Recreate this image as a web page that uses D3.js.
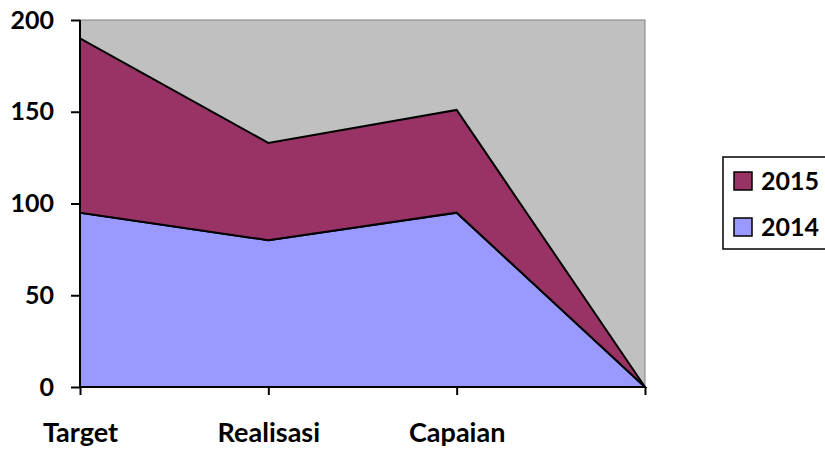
<!DOCTYPE html>
<html>
<head>
<meta charset="utf-8">
<script src="https://cdn.jsdelivr.net/npm/d3@7"></script>
<style>
  body { margin: 0; background: #fff; }
  svg { display: block; font-family: Lato, "Open Sans", sans-serif; font-weight: bold; }
</style>
</head>
<body>
<svg width="825" height="450"></svg>
<script>
// chart data
var categories = ["Target", "Realisasi", "Capaian", ""];
var values2014 = [95, 80, 95, 0];
var values2015 = [95, 53, 56, 0];
var yTicks = [0, 50, 100, 150, 200];

var svg = d3.select("svg");

// plot area bounds
var plotLeft = 80, plotRight = 645, plotTop = 20, plotBottom = 387;

var x = d3.scalePoint()
    .domain(d3.range(categories.length))
    .range([plotLeft, plotRight]);

var y = d3.scaleLinear()
    .domain([0, 200])
    .range([plotBottom, plotTop]);

// build rows for the stack
var rows = categories.map(function(c, i) {
  return { i: i, y2014: values2014[i], y2015: values2015[i] };
});
var stacked = d3.stack().keys(["y2014", "y2015"])(rows);
var colors = { y2014: "#9999FF", y2015: "#993366" };

// plot background
svg.append("rect")
    .attr("x", plotLeft).attr("y", plotTop)
    .attr("width", plotRight - plotLeft).attr("height", plotBottom - plotTop)
    .attr("fill", "#C0C0C0")
    .attr("stroke", "#808080")
    .attr("stroke-width", 1);

var area = d3.area()
    .x(function(d) { return x(d.data.i); })
    .y0(function(d) { return y(d[0]); })
    .y1(function(d) { return y(d[1]); });

svg.append("g")
  .selectAll("path")
  .data(stacked)
  .enter().append("path")
    .attr("d", area)
    .attr("fill", function(d) { return colors[d.key]; })
    .style("stroke", "#000")
    .style("stroke-width", 2)
    .style("stroke-linejoin", "miter");

// y axis
var yAxis = svg.append("g")
    .attr("transform", "translate(" + plotLeft + ",0)")
    .call(d3.axisLeft(y).tickValues(yTicks).tickSize(9).tickPadding(17));
yAxis.select(".domain").attr("stroke", "#000").attr("stroke-width", 2).attr("d", "M0," + plotTop + "V" + plotBottom);
yAxis.selectAll(".tick line").attr("stroke", "#000").attr("stroke-width", 2);
yAxis.selectAll("text")
    .style("font-size", "25px")
    .style("font-family", "Lato, 'Open Sans', sans-serif")
    .style("font-weight", "bold")
    .attr("fill", "#000");

// x axis
var xAxis = svg.append("g")
    .attr("transform", "translate(0," + plotBottom + ")")
    .call(d3.axisBottom(x).tickFormat(function(i) { return categories[i]; }).tickSize(8).tickPadding(28));
xAxis.select(".domain").attr("stroke", "#000").attr("stroke-width", 2).attr("d", "M" + plotLeft + ",0H" + plotRight);
xAxis.selectAll(".tick line").attr("stroke", "#000").attr("stroke-width", 2);
xAxis.selectAll("text")
    .style("font-size", "27px")
    .style("font-family", "Lato, 'Open Sans', sans-serif")
    .style("font-weight", "bold")
    .attr("fill", "#000");

// legend
var legend = svg.append("g");
legend.append("rect")
    .attr("x", 723).attr("y", 157)
    .attr("width", 110).attr("height", 92)
    .attr("fill", "#fff")
    .attr("stroke", "#000")
    .attr("stroke-width", 1.5);

var legendItems = [
  { label: "2015", key: "y2015", cy: 181 },
  { label: "2014", key: "y2014", cy: 227 }
];
legendItems.forEach(function(d) {
  legend.append("rect")
      .attr("x", 734).attr("y", d.cy - 9)
      .attr("width", 18).attr("height", 18)
      .attr("fill", colors[d.key])
      .attr("stroke", "#000")
      .attr("stroke-width", 1.5);
  legend.append("text")
      .attr("x", 761).attr("y", d.cy + 9)
      .style("font-size", "25px")
      .text(d.label);
});
</script>
</body>
</html>
